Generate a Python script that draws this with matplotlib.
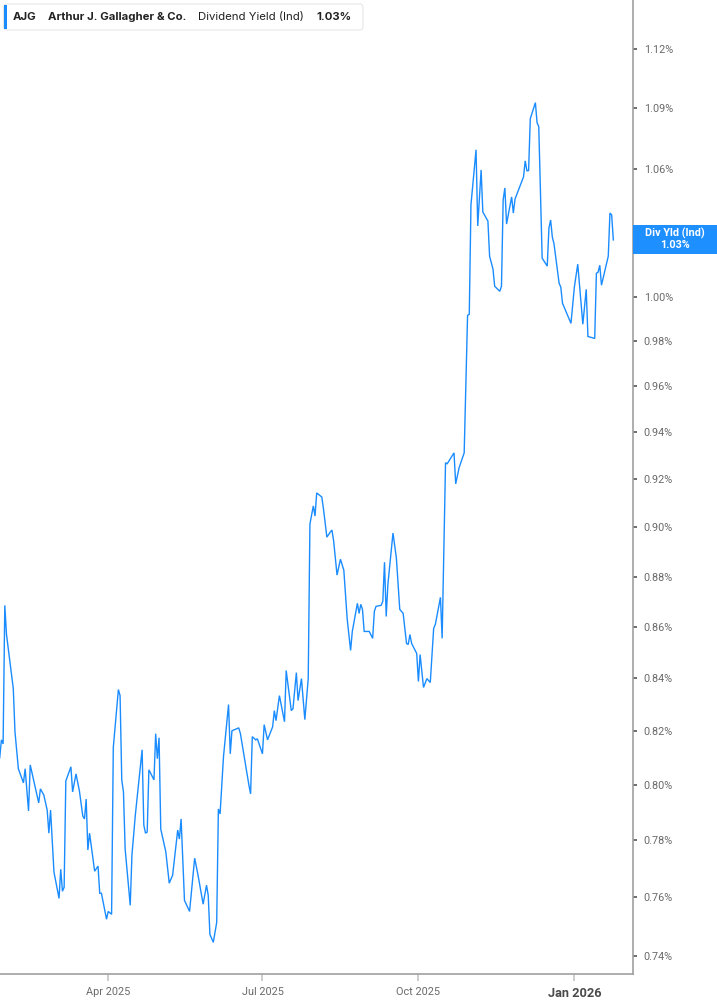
import matplotlib
matplotlib.use("Agg")
import matplotlib.pyplot as plt
from matplotlib.patches import FancyBboxPatch, Rectangle
from matplotlib.ticker import FixedLocator, FuncFormatter, NullLocator
import pandas as pd

# ---------------- data ----------------
dates = [
    "2025-01-27", "2025-01-28", "2025-01-29", "2025-01-30", "2025-01-31", "2025-02-04", "2025-02-05", "2025-02-07",
    "2025-02-10", "2025-02-11", "2025-02-13", "2025-02-14", "2025-02-19", "2025-02-20", "2025-02-22", "2025-02-24",
    "2025-02-25", "2025-02-26", "2025-02-28", "2025-03-03", "2025-03-04", "2025-03-05", "2025-03-06", "2025-03-07",
    "2025-03-10", "2025-03-11", "2025-03-13", "2025-03-15", "2025-03-17", "2025-03-18", "2025-03-19", "2025-03-20",
    "2025-03-21", "2025-03-24", "2025-03-26", "2025-03-27", "2025-03-28", "2025-03-31", "2025-04-01", "2025-04-03",
    "2025-04-04", "2025-04-07", "2025-04-08", "2025-04-09", "2025-04-10", "2025-04-11", "2025-04-14", "2025-04-15",
    "2025-04-17", "2025-04-21", "2025-04-22", "2025-04-23", "2025-04-24", "2025-04-25", "2025-04-28", "2025-04-29",
    "2025-04-30", "2025-05-01", "2025-05-02", "2025-05-05", "2025-05-07", "2025-05-09", "2025-05-12", "2025-05-13",
    "2025-05-14", "2025-05-16", "2025-05-19", "2025-05-22", "2025-05-24", "2025-05-27", "2025-05-29", "2025-05-30",
    "2025-05-31", "2025-06-02", "2025-06-04", "2025-06-05", "2025-06-06", "2025-06-08", "2025-06-11", "2025-06-12",
    "2025-06-13", "2025-06-17", "2025-06-18", "2025-06-23", "2025-06-24", "2025-06-25", "2025-06-27", "2025-06-28",
    "2025-07-01", "2025-07-02", "2025-07-04", "2025-07-07", "2025-07-08", "2025-07-09", "2025-07-11", "2025-07-14",
    "2025-07-15", "2025-07-18", "2025-07-19", "2025-07-21", "2025-07-22", "2025-07-24", "2025-07-26", "2025-07-28",
    "2025-07-29", "2025-07-31", "2025-08-01", "2025-08-02", "2025-08-05", "2025-08-06", "2025-08-08", "2025-08-10",
    "2025-08-11", "2025-08-12", "2025-08-14", "2025-08-16", "2025-08-18", "2025-08-20", "2025-08-22", "2025-08-23",
    "2025-08-26", "2025-08-27", "2025-08-28", "2025-08-29", "2025-08-30", "2025-09-02", "2025-09-04", "2025-09-05",
    "2025-09-06", "2025-09-09", "2025-09-10", "2025-09-11", "2025-09-12", "2025-09-13", "2025-09-16", "2025-09-18",
    "2025-09-20", "2025-09-22", "2025-09-24", "2025-09-25", "2025-09-26", "2025-09-27", "2025-09-30", "2025-10-01",
    "2025-10-02", "2025-10-04", "2025-10-06", "2025-10-08", "2025-10-10", "2025-10-11", "2025-10-14", "2025-10-15",
    "2025-10-17", "2025-10-18", "2025-10-22", "2025-10-23", "2025-10-25", "2025-10-28", "2025-10-30", "2025-10-31",
    "2025-11-01", "2025-11-04", "2025-11-05", "2025-11-07", "2025-11-08", "2025-11-11", "2025-11-12", "2025-11-14",
    "2025-11-15", "2025-11-18", "2025-11-19", "2025-11-20", "2025-11-21", "2025-11-22", "2025-11-25", "2025-11-26",
    "2025-11-27", "2025-12-02", "2025-12-03", "2025-12-04", "2025-12-05", "2025-12-06", "2025-12-09", "2025-12-10",
    "2025-12-11", "2025-12-13", "2025-12-16", "2025-12-17", "2025-12-18", "2025-12-19", "2025-12-20", "2025-12-23",
    "2025-12-24", "2025-12-25", "2025-12-26", "2025-12-30", "2026-01-01", "2026-01-03", "2026-01-06", "2026-01-08",
    "2026-01-09", "2026-01-13", "2026-01-14", "2026-01-15", "2026-01-16", "2026-01-17", "2026-01-21", "2026-01-22",
    "2026-01-23", "2026-01-24",
]

div_yield = [
    0.8100, 0.8167, 0.8152, 0.8685, 0.8570, 0.8361, 0.8197, 0.8060,
    0.8008, 0.8060, 0.7906, 0.8074, 0.7935, 0.7986, 0.7964, 0.7909,
    0.7826, 0.7909, 0.7688, 0.7596, 0.7698, 0.7621, 0.7635, 0.8015,
    0.8067, 0.7975, 0.8041, 0.7979, 0.7888, 0.7877, 0.7949, 0.7766,
    0.7826, 0.7691, 0.7709, 0.7614, 0.7614, 0.7524, 0.7551, 0.7541,
    0.8138, 0.8357, 0.8334, 0.8019, 0.7975, 0.7769, 0.7572, 0.7748,
    0.7891, 0.8130, 0.7855, 0.7826, 0.7830, 0.8056, 0.8019, 0.8190,
    0.8097, 0.8175, 0.7841, 0.7759, 0.7649, 0.7677, 0.7837, 0.7805,
    0.7877, 0.7589, 0.7551, 0.7737, 0.7677, 0.7576, 0.7642, 0.7607,
    0.7472, 0.7445, 0.7513, 0.7913, 0.7895, 0.8104, 0.8300, 0.8115,
    0.8201, 0.8212, 0.8190, 0.8000, 0.7968, 0.8179, 0.8167, 0.8171,
    0.8115, 0.8224, 0.8167, 0.8216, 0.8277, 0.8239, 0.8334, 0.8235,
    0.8430, 0.8277, 0.8284, 0.8422, 0.8315, 0.8399, 0.8243, 0.8399,
    0.9014, 0.9089, 0.9047, 0.9143, 0.9126, 0.9076, 0.8960, 0.8981,
    0.8989, 0.8944, 0.8806, 0.8870, 0.8826, 0.8630, 0.8508, 0.8582,
    0.8693, 0.8653, 0.8689, 0.8669, 0.8582, 0.8582, 0.8555, 0.8661,
    0.8681, 0.8685, 0.8701, 0.8858, 0.8641, 0.8769, 0.8977, 0.8875,
    0.8669, 0.8653, 0.8535, 0.8531, 0.8570, 0.8535, 0.8496, 0.8388,
    0.8492, 0.8365, 0.8399, 0.8384, 0.8594, 0.8610, 0.8717, 0.8555,
    0.9270, 0.9266, 0.9312, 0.9181, 0.9249, 0.9312, 0.9916, 0.9921,
    1.0430, 1.0696, 1.0330, 1.0598, 1.0396, 1.0353, 1.0188, 1.0128,
    1.0049, 1.0026, 1.0049, 1.0454, 1.0511, 1.0339, 1.0468, 1.0391,
    1.0458, 1.0564, 1.0642, 1.0594, 1.0594, 1.0849, 1.0929, 1.0829,
    1.0810, 1.0179, 1.0142, 1.0320, 1.0358, 1.0278, 1.0245, 1.0063,
    1.0045, 0.9971, 0.9953, 0.9880, 1.0045, 1.0151, 0.9876, 1.0035,
    0.9821, 0.9812, 1.0109, 1.0114, 1.0146, 1.0054, 1.0188, 1.0391,
    1.0382, 1.0264,
]

y_ticks = [0.74, 0.76, 0.78, 0.80, 0.82, 0.84, 0.86, 0.88, 0.90, 0.92, 0.94, 0.96, 0.98, 1.00, 1.06, 1.09, 1.12]
x_tick_dates = ["2025-04-01", "2025-07-01", "2025-10-01", "2026-01-01"]
x_tick_labels = ["Apr 2025", "Jul 2025", "Oct 2025", "Jan 2026"]

ticker_sym = "AJG"
company = "Arthur J. Gallagher & Co."
metric = "Dividend Yield (Ind)"
last_label = "1.03%"
badge_title = "Div Yld (Ind)"

# ---------------- figure ----------------
W, H = 717, 1005
fig = plt.figure(figsize=(W / 100, H / 100), dpi=100)
fig.patch.set_facecolor("white")

def fx(px):
    return px / W

def fy(py):
    return 1 - py / H

ax_right, ax_bottom = 632.7, 974.3
ax = fig.add_axes([0, fy(ax_bottom), fx(ax_right), ax_bottom / H])
ax.set_facecolor("white")

x = pd.to_datetime(dates)
line_color = "#1a8cff"
ax.plot(x, div_yield, color=line_color, lw=1.0, solid_joinstyle="miter")

ax.set_yscale("log")
ax.set_ylim(0.7337, 1.1454)
ax.set_xlim(pd.Timestamp("2025-01-27 04:00"), pd.Timestamp("2026-02-04 10:00"))

for s in ["left", "top"]:
    ax.spines[s].set_visible(False)
for s in ["right", "bottom"]:
    ax.spines[s].set_color("#a0a0a0")
    ax.spines[s].set_linewidth(1.2)

tick_font = ["Roboto", "DejaVu Sans"]
ax.yaxis.tick_right()
ax.yaxis.set_major_locator(FixedLocator(y_ticks))
ax.yaxis.set_minor_locator(NullLocator())
ax.yaxis.set_major_formatter(FuncFormatter(lambda v, p: f"{v:.2f}%"))
ax.tick_params(axis="y", which="major", direction="out", length=3, width=1.2,
               color="#555555", pad=5, labelsize=7.8, labelcolor="#6a6a6a")
for lab in ax.get_yticklabels():
    lab.set_family(tick_font)

ax.set_xticks(pd.to_datetime(x_tick_dates))
ax.set_xticklabels(x_tick_labels)
ax.tick_params(axis="x", which="major", direction="out", length=5, width=1.2,
               color="#c4c4c4", pad=4, labelsize=7.8, labelcolor="#6a6a6a")
for lab in ax.get_xticklabels():
    lab.set_family(tick_font)
xl = ax.get_xticklabels()
xl[-1].set_fontweight("bold")
xl[-1].set_color("#4a4a4a")
xl[-1].set_fontsize(9.2)

# ---------------- header box ----------------
hdr_font = ["Inter", "DejaVu Sans"]
box = FancyBboxPatch((fx(3.5), fy(30)), fx(363) - fx(3.5), fy(4) - fy(30),
                     boxstyle="round,pad=0,rounding_size=0.004",
                     transform=fig.transFigure, facecolor="white",
                     edgecolor="#e6e6e6", lw=0.8, zorder=5)
fig.patches.append(box)
bar = Rectangle((fx(3.5), fy(29)), fx(3), fy(5) - fy(29), transform=fig.transFigure,
                facecolor=line_color, edgecolor="none", zorder=6)
fig.patches.append(bar)

ty = fy(17)
fig.text(fx(13), ty, ticker_sym, fontsize=8.2, fontweight="bold", color="#222222",
         family=hdr_font, va="center", ha="left", zorder=7)
fig.text(fx(48), ty, company, fontsize=8.2, fontweight="bold", color="#222222",
         family=hdr_font, va="center", ha="left", zorder=7)
fig.text(fx(198), ty, metric, fontsize=8.2, color="#222222",
         family=hdr_font, va="center", ha="left", zorder=7)
fig.text(fx(316), ty, last_label, fontsize=8.2, fontweight="bold", color="#222222",
         family=hdr_font, va="center", ha="left", zorder=7)

# ---------------- last value badge ----------------
badge = Rectangle((fx(ax_right), fy(254)), fx(W) - fx(ax_right), fy(225) - fy(254),
                  transform=fig.transFigure, facecolor="#1e8fff", edgecolor="none", zorder=6)
fig.patches.append(badge)
cx = fx((ax_right + W) / 2)
fig.text(cx, fy(233.5), badge_title, fontsize=7.8, fontweight="bold", color="white",
         family=tick_font, ha="center", va="center", zorder=7)
fig.text(cx, fy(245.5), last_label, fontsize=7.8, fontweight="bold", color="white",
         family=tick_font, ha="center", va="center", zorder=7)

fig.savefig("out.png", dpi=100, facecolor="white")
